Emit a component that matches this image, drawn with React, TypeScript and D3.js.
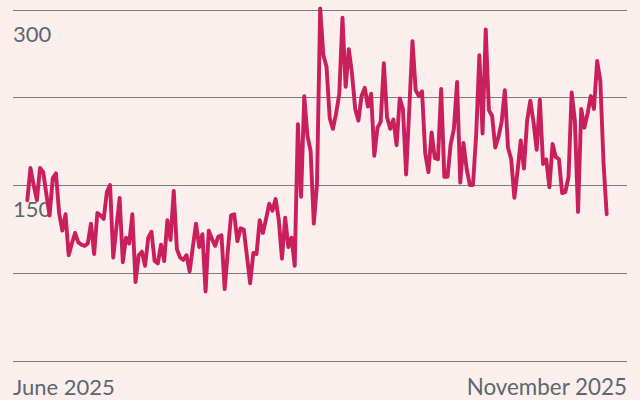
import React, { useEffect, useRef } from 'react';
import * as d3 from 'd3';

// daily values, 1 June - 30 November 2025
const startDate = new Date(2025, 5, 1);
const values = [
  137, 164.5, 150, 137, 164.5, 161, 142, 124, 156, 160,
  126, 111, 125, 90, 100, 109, 101, 99, 98, 100,
  117, 91, 126, 124, 121, 144, 150, 88, 114, 139,
  84, 105, 100, 125, 67, 90, 93, 81, 105, 110,
  85, 83, 99, 85, 120, 103, 145, 95, 88, 86,
  90, 76, 97, 117, 97, 108, 59, 111, 104, 98,
  106, 107, 61, 94, 124, 125, 102, 113, 112, 89,
  66, 92, 91, 120, 109, 121, 134, 128, 138, 120,
  87, 122, 97, 105, 81, 202, 140, 226, 192, 179,
  117, 151, 301, 261, 251, 207, 198, 211, 228, 293,
  234, 266, 245, 215, 205, 226, 233, 217, 228, 175,
  199, 204, 254, 208, 198, 206, 184, 224, 215, 159,
  216, 273, 231, 226, 230, 177, 161, 195, 173, 172,
  232, 157, 157, 185, 198, 238, 152, 186, 164, 150,
  150, 193, 261, 194, 283, 214, 209, 182, 191, 204,
  231, 182, 172, 139, 162, 188, 164, 205, 222, 204,
  180, 223, 168, 172, 148, 185, 174, 172, 143, 144,
  157, 229, 205, 127, 215, 199, 211, 226, 215, 256,
  239, 169, 125,
];
const gridValues = [0, 75, 150, 225, 300];
const labelledValues = [150, 300];
const xLabels = ['June 2025', 'November 2025'];

const width = 640;
const height = 400;

export default function App() {
  const ref = useRef<SVGSVGElement>(null);

  useEffect(() => {
    const data = values.map((v, i) => ({ date: d3.timeDay.offset(startDate, i), value: v }));

    const svg = d3.select(ref.current);
    svg.selectAll('*').remove();

    svg.append('rect')
      .attr('width', width)
      .attr('height', height)
      .attr('fill', '#fbefed');

    const x = d3.scaleTime()
      .domain(d3.extent(data, d => d.date) as [Date, Date])
      .range([27.3, 606.7]);
    const y = d3.scaleLinear()
      .domain([0, 300])
      .range([360.5, 9.5]);

    // grid
    svg.append('g')
      .selectAll('line')
      .data(gridValues)
      .join('line')
        .attr('x1', 13)
        .attr('x2', 627)
        .attr('y1', d => Math.round(y(d)) + 0.5)
        .attr('y2', d => Math.round(y(d)) + 0.5)
        .attr('stroke', '#7b7d82')
        .attr('stroke-width', 1);

    svg.append('g')
      .selectAll('text')
      .data(labelledValues)
      .join('text')
        .attr('x', 13)
        .attr('y', d => y(d) + 32)
        .attr('fill', '#5b6770')
        .style('font-family', 'Lato, sans-serif')
        .style('font-size', '22px')
        .text(d => d);

    // x labels at the ends of the axis
    svg.append('text')
      .attr('x', 13)
      .attr('y', 395)
      .attr('fill', '#5b6770')
      .style('font-family', 'Lato, sans-serif')
      .style('font-size', '22px')
      .text(xLabels[0]);
    svg.append('text')
      .attr('x', 627)
      .attr('y', 395)
      .attr('text-anchor', 'end')
      .attr('fill', '#5b6770')
      .style('font-family', 'Lato, sans-serif')
      .style('font-size', '22.4px')
      .text(xLabels[1]);

    const line = d3.line<{ date: Date; value: number }>()
      .x(d => x(d.date))
      .y(d => y(d.value));

    svg.append('path')
      .datum(data)
      .attr('d', line)
      .attr('fill', 'none')
      .attr('stroke', '#c91f5c')
      .attr('stroke-width', 3.9)
      .attr('stroke-linejoin', 'round')
      .attr('stroke-linecap', 'round');
  }, []);

  return (
    <svg
      ref={ref}
      width={width}
      height={height}
      style={{ position: 'absolute', left: 0, top: 0 }}
    />
  );
}
